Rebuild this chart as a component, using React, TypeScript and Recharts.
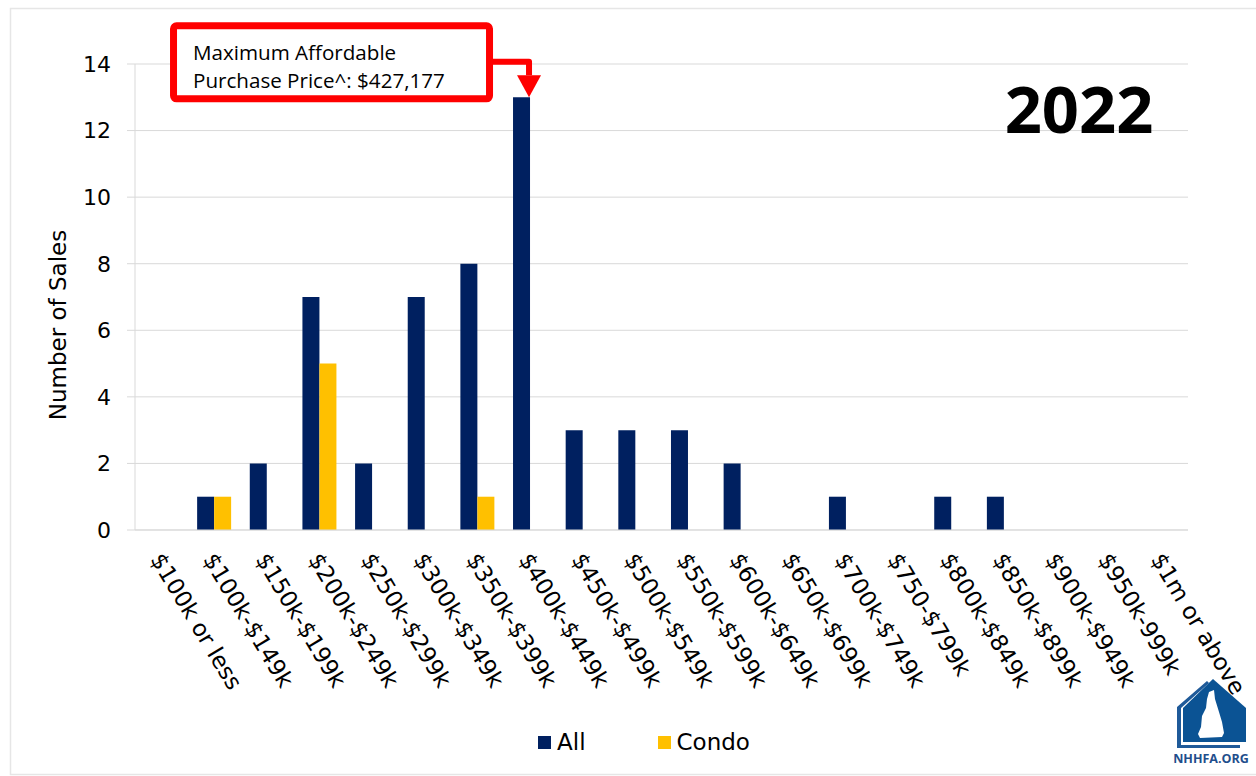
import { BarChart, Bar, XAxis, YAxis, CartesianGrid, Legend } from 'recharts';

const priceBands = [
  '$100k or less',
  '$100k-$149k',
  '$150k-$199k',
  '$200k-$249k',
  '$250k-$299k',
  '$300k-$349k',
  '$350k-$399k',
  '$400k-$449k',
  '$450k-$499k',
  '$500k-$549k',
  '$550k-$599k',
  '$600k-$649k',
  '$650k-$699k',
  '$700k-$749k',
  '$750-$799k',
  '$800k-$849k',
  '$850k-$899k',
  '$900k-$949k',
  '$950k-999k',
  '$1m or above',
];

const allSales = [0, 1, 2, 7, 2, 7, 8, 13, 3, 3, 3, 2, 0, 1, 0, 1, 1, 0, 0, 0];
const condoSales = [0, 1, 0, 5, 0, 0, 1, 0, 0, 0, 0, 0, 0, 0, 0, 0, 0, 0, 0, 0];

const yTicks = [0, 2, 4, 6, 8, 10, 12, 14];

const calloutLines = ['Maximum Affordable', 'Purchase Price^: $427,177'];
const calloutBand = '$400k-$449k';

const yearLabel = '2022';

const NAVY = '#002060';
const GOLD = '#FFC000';
const RED = '#FF0000';
const GRID = '#d9d9d9';

const rows = priceBands.map((band, i) => ({
  band,
  all: allSales[i],
  condo: condoSales[i],
}));

const PriceTick = ({ x, y, payload }: any) => (
  <g transform={`translate(${x - 1},${y + 25})`}>
    <text
      transform="rotate(59)"
      x={0}
      y={0}
      dx={-7}
      dy="0.35em"
      textAnchor="start"
      fontFamily="DejaVu Sans"
      fontSize={23}
      fill="#000"
    >
      {payload.value}
    </text>
  </g>
);

// red box with an elbow arrow pointing down at the top of the marked bar
const Callout = (props: any) => {
  const { x, y, width, value } = props;
  const isTarget = props.payload
    ? props.payload.band === calloutBand
    : value === allSales[priceBands.indexOf(calloutBand)];
  if (!isTarget) return null;
  const tipX = x + width - 1;
  const tipY = y;
  return (
    <g>
      <path
        d={`M${tipX - 40},${tipY - 35.5} H${tipX} V${tipY - 22}`}
        fill="none"
        stroke={RED}
        strokeWidth={6}
        strokeLinejoin="round"
      />
      <polygon
        points={`${tipX - 12},${tipY - 22} ${tipX + 12},${tipY - 22} ${tipX},${tipY}`}
        fill={RED}
      />
      <rect
        x={tipX - 355.5}
        y={tipY - 71.5}
        width={316}
        height={73}
        rx={3}
        fill="#fff"
        stroke={RED}
        strokeWidth={7}
      />
      {calloutLines.map((line, i) => (
        <text
          key={line}
          x={tipX - 336}
          y={tipY - 37 + i * 28}
          fontFamily="Open Sans"
          fontSize={20.6}
          fill="#000"
        >
          {line}
        </text>
      ))}
    </g>
  );
};

const SalesLegend = () => (
  <div
    style={{
      display: 'flex',
      justifyContent: 'center',
      gap: 72,
      height: 30,
      alignItems: 'center',
      fontFamily: 'DejaVu Sans',
      fontSize: 23,
      color: '#000',
      paddingLeft: 100,
    }}
  >
    {[
      { name: 'All', color: NAVY },
      { name: 'Condo', color: GOLD },
    ].map((item) => (
      <span key={item.name} style={{ display: 'flex', alignItems: 'center' }}>
        <span
          style={{
            width: 13,
            height: 13,
            background: item.color,
            marginRight: 6,
            display: 'inline-block',
          }}
        />
        {item.name}
      </span>
    ))}
  </div>
);

const AxisTitle = ({ viewBox }: any) => {
  const cx = viewBox.x + 58;
  const cy = viewBox.y + viewBox.height / 2 + 28;
  return (
    <text
      x={cx}
      y={cy}
      transform={`rotate(-90, ${cx}, ${cy})`}
      textAnchor="middle"
      dominantBaseline="central"
      fontFamily="DejaVu Sans"
      fontSize={23}
      fill="#000"
    >
      Number of Sales
    </text>
  );
};

const Logo = () => (
  <g>
    <polygon points="1177,707 1207,681 1209,683 1181,708 1181,745 1240,745 1240,748 1177,748" fill="#1f5a99" />
    <polygon points="1213,679 1246,708 1246,742 1183,742 1183,708" fill="#0b5394" />
    <polygon
      points="1209,692 1214,690 1215,699 1219,712 1222,722 1224,733 1222,737 1200,738 1198,734 1201,727 1202,716 1206,708 1207,699"
      fill="#fff"
    />
    <text
      x={1211}
      y={763}
      textAnchor="middle"
      fontFamily="Open Sans"
      fontWeight={700}
      fontSize={12.5}
      fill="#1f4e8c"
    >
      NHHFA.ORG
    </text>
  </g>
);

export default function App() {
  return (
    <div style={{ position: 'absolute', left: 0, top: 0, width: 1256, height: 776, background: '#fff' }}>
      <BarChart
        width={1256}
        height={776}
        data={rows}
        margin={{ top: 64, right: 68, bottom: 19, left: 0 }}
        barCategoryGap="18%"
        barGap={0}
      >
        <CartesianGrid vertical={false} stroke={GRID} />
        <XAxis
          dataKey="band"
          interval={0}
          height={197}
          tick={<PriceTick />}
          tickLine={false}
          tickSize={6}
          tickMargin={0}
          axisLine={{ stroke: GRID }}
        />
        <YAxis
          width={135}
          domain={[0, 14]}
          ticks={yTicks}
          interval={0}
          tickSize={8}
          tickMargin={16}
          tickLine={{ stroke: GRID }}
          axisLine={{ stroke: GRID }}
          tick={{ fontFamily: 'DejaVu Sans', fontSize: 22, fill: '#000' }}
          label={<AxisTitle />}
        />
        <Legend verticalAlign="bottom" height={30} content={<SalesLegend />} />
        <Bar dataKey="all" name="All" fill={NAVY} isAnimationActive={false} label={<Callout />} />
        <Bar dataKey="condo" name="Condo" fill={GOLD} isAnimationActive={false} />
      </BarChart>
      <svg
        width={1256}
        height={776}
        style={{ position: 'absolute', left: 0, top: 0, pointerEvents: 'none' }}
      >
        <rect x={10.5} y={8.5} width={1260} height={766} fill="none" stroke="#e6e6e6" strokeWidth={1.5} />
        <text
          x={1079}
          y={133}
          textAnchor="middle"
          fontFamily="Open Sans"
          fontWeight={700}
          fontSize={65}
          fill="#000"
        >
          {yearLabel}
        </text>
        <Logo />
      </svg>
    </div>
  );
}
